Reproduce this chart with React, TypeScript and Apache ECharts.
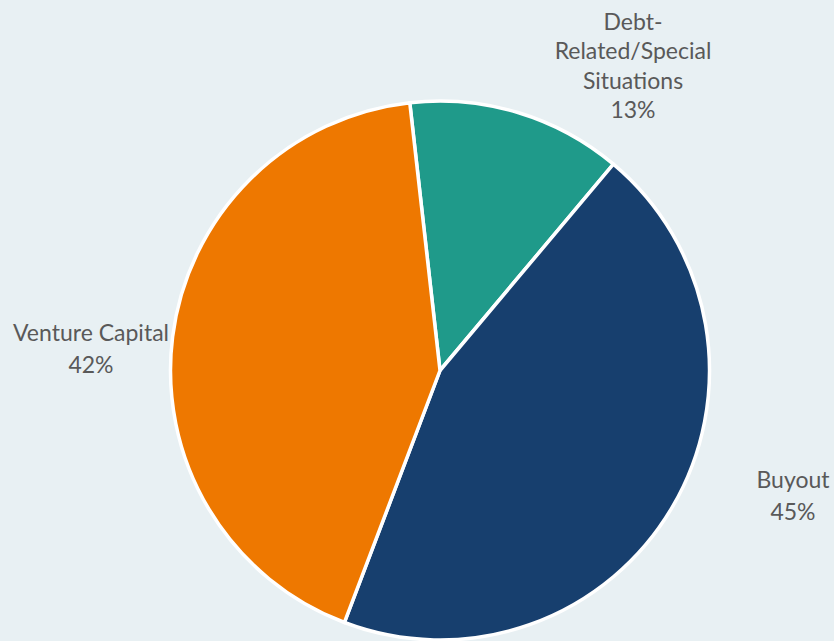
import React, { useEffect, useRef } from "react";
import * as echarts from "echarts";

const categories = ["Debt-\nRelated/Special\nSituations", "Buyout", "Venture Capital"];
const shares = [12.9, 44.6, 42.4];
const colors = ["#1f9a8a", "#173f6e", "#ee7800"];

// label centre positions (pixels) and line heights for each slice label
const labelSpots = [
  [633, 65],
  [793, 495],
  [91, 348],
];
const labelLineHeights = [29.3, 32.5, 32.7];

export default function App() {
  const ref = useRef<HTMLDivElement>(null);
  useEffect(() => {
    if (!ref.current) return;
    const chart = echarts.init(ref.current, undefined, { renderer: "svg" });
    chart.setOption({
      animation: false,
      backgroundColor: "#e8f0f3",
      series: [
        {
          type: "pie",
          center: [440, 370.5],
          radius: [0, 269.5],
          startAngle: 96.44,
          clockwise: true,
          data: categories.map((name, i) => ({
            name,
            value: shares[i],
            itemStyle: { color: colors[i] },
            label: { lineHeight: labelLineHeights[i] },
          })),
          itemStyle: { borderColor: "#ffffff", borderWidth: 3.5 },
          label: {
            show: true,
            position: "outside",
            formatter: (p: any) => `${p.name}\n${Math.round(p.value)}%`,
            color: "#595959",
            fontFamily: "Lato, 'Open Sans', sans-serif",
            fontSize: 23,
            lineHeight: 30,
            align: "center",
            overflow: "none",
            width: 300,
          },
          labelLine: { show: false },
          labelLayout: (params: any) => {
            const s = labelSpots[params.dataIndex];
            return {
              x: s[0],
              y: s[1],
              align: "center",
              verticalAlign: "middle",
            };
          },
          emphasis: { disabled: true },
        },
      ],
    });
    return () => chart.dispose();
  }, []);
  return (
    <div
      ref={ref}
      style={{ position: "fixed", left: 0, top: 0, width: 834, height: 641 }}
    />
  );
}
